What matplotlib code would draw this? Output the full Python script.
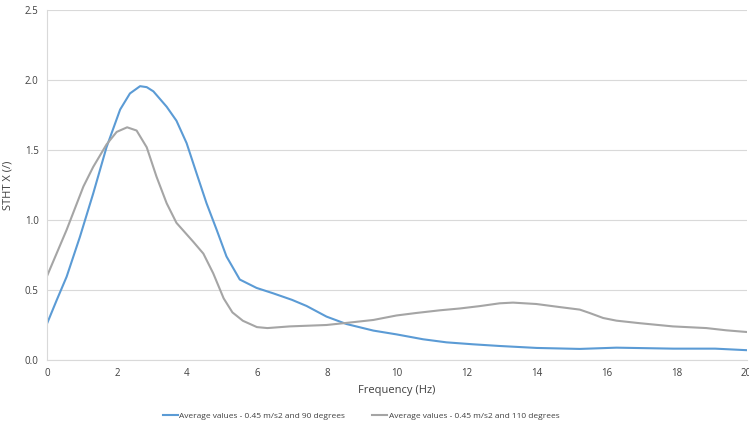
import matplotlib
matplotlib.use("Agg")
import matplotlib.pyplot as plt

# Frequency (Hz) and STHT X values
freq_90 = [0, 0.28, 0.56, 0.94, 1.32, 1.7, 2.09, 2.37, 2.66, 2.85, 3.04, 3.42,
           3.7, 3.99, 4.28, 4.56, 4.85, 5.13, 5.51, 5.99, 6.47, 7.0, 7.42, 7.99,
           8.56, 9.33, 9.99, 10.75, 11.42, 12.18, 12.94, 14.0, 15.23, 16.28,
           17.9, 19.1, 20]
stht_90 = [0.26, 0.43, 0.595, 0.88, 1.19, 1.52, 1.79, 1.905, 1.957, 1.95, 1.92,
           1.81, 1.71, 1.55, 1.33, 1.12, 0.93, 0.74, 0.575, 0.515, 0.476, 0.43,
           0.386, 0.31, 0.257, 0.21, 0.183, 0.148, 0.126, 0.112, 0.10, 0.086,
           0.079, 0.088, 0.081, 0.081, 0.07]

freq_110 = [0, 0.56, 1.04, 1.32, 1.7, 1.99, 2.29, 2.56, 2.85, 3.13, 3.42, 3.7,
            4.18, 4.47, 4.75, 5.05, 5.3, 5.6, 6.0, 6.3, 6.94, 7.99, 8.56, 9.33,
            9.99, 10.56, 11.23, 11.8, 12.37, 12.94, 13.32, 13.99, 14.66, 15.23,
            15.51, 15.9, 16.28, 16.94, 17.89, 18.85, 19.42, 20]
stht_110 = [0.60, 0.93, 1.24, 1.38, 1.54, 1.63, 1.663, 1.64, 1.52, 1.31, 1.12,
            0.98, 0.845, 0.76, 0.62, 0.44, 0.34, 0.28, 0.235, 0.228, 0.24, 0.25,
            0.265, 0.286, 0.318, 0.336, 0.355, 0.368, 0.385, 0.405, 0.41, 0.40,
            0.378, 0.36, 0.336, 0.3, 0.281, 0.263, 0.24, 0.228, 0.212, 0.2]

label_90 = "Average values - 0.45 m/s2 and 90 degrees"
label_110 = "Average values - 0.45 m/s2 and 110 degrees"

plt.rcParams['font.family'] = ['Open Sans', 'DejaVu Sans']

fig = plt.figure(figsize=(7.49, 4.25), dpi=100)
ax = fig.add_axes([0.0628, 0.153, 0.934, 0.823])

ax.plot(freq_90, stht_90, color='#5b9bd5', linewidth=1.5, label=label_90,
        solid_joinstyle='round')
ax.plot(freq_110, stht_110, color='#a5a5a5', linewidth=1.5, label=label_110,
        solid_joinstyle='round')

ax.set_xlim(0, 20)
ax.set_ylim(0, 2.5)
ax.set_xticks(range(0, 21, 2))
ax.set_yticks([0, 0.5, 1.0, 1.5, 2.0, 2.5])
ax.set_yticklabels(['0.0', '0.5', '1.0', '1.5', '2.0', '2.5'])
ax.tick_params(length=0, labelsize=7, colors='#404040', pad=6)

ax.grid(axis='y', color='#d9d9d9', linewidth=0.8)
ax.set_axisbelow(True)
for side in ['top', 'right']:
    ax.spines[side].set_visible(False)
ax.spines['left'].set_color('#d9d9d9')
ax.spines['bottom'].set_color('#d9d9d9')

ax.set_xlabel("Frequency (Hz)", fontsize=8, color='#404040', labelpad=4)
ax.set_ylabel("STHT X (/)", fontsize=8, color='#404040', labelpad=8)

fig.legend(loc='lower center', bbox_to_anchor=(0.482, -0.005), ncol=2, frameon=False,
           fontsize=6, handlelength=1.8, handletextpad=0.2, columnspacing=3.2,
           labelcolor='#404040')

fig.savefig("out.png", dpi=100)
